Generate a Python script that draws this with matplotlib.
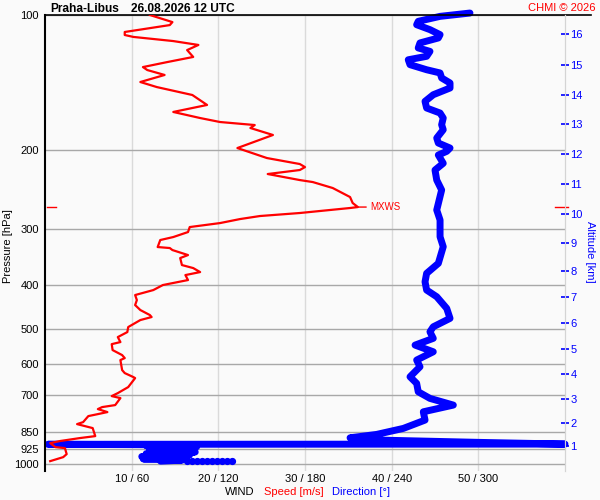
import matplotlib;matplotlib.use('Agg')
import numpy as np
import matplotlib.pyplot as plt
import matplotlib.transforms as mtransforms

plt.rcParams['font.family'] = ['Liberation Sans', 'DejaVu Sans']

STATION = 'Praha-Libus'
DATE_LABEL = '26.08.2026 12 UTC'
COPYRIGHT = 'CHMI © 2026'
PNG_FILENAME = 'out.png'

# wind speed profile: pressure [hPa] and speed [m/s]
speed_pres = [100.0, 103.7, 105.3, 109.1, 110.8, 111.9, 114.3, 116.6, 119.7, 124.0,
              127.3, 130.6, 132.6, 136.0, 141.0, 144.7, 150.7, 158.6, 164.4, 169.6,
              173.1, 175.8, 178.5, 185.0, 197.8, 208.2, 214.7, 218.1, 221.4, 226.0,
              233.1, 235.5, 242.8, 254.3, 262.2, 267.7, 269.0, 276.0, 280.3, 284.7,
              290.6, 296.6, 304.3, 312.2, 317.0, 328.6, 330.3, 333.7, 342.4, 347.7,
              360.4, 366.0, 373.6, 379.4, 389.2, 399.3, 409.7, 420.3, 431.3, 442.5,
              453.9, 465.7, 470.5, 477.8, 485.2, 495.3, 508.2, 521.4, 534.9, 540.6,
              557.3, 571.8, 580.7, 586.6, 617.5, 627.1, 640.1, 643.4, 673.8, 694.9,
              705.6, 712.9, 738.9, 746.5, 754.2, 765.9, 773.9, 781.8, 806.3, 814.6,
              831.4, 866.3, 875.2, 888.7, 898.0, 916.6, 921.3, 950.1, 964.9, 984.9]
speed_ms = [12.1, 14.7, 14.4, 9.2, 9.2, 10.2, 14.8, 17.7, 16.4, 17.1,
            14.1, 11.3, 11.8, 13.8, 11.0, 12.9, 17.0, 18.7, 14.8, 17.9,
            20.2, 24.2, 23.7, 26.3, 22.2, 25.6, 29.4, 30.0, 29.4, 25.7,
            29.4, 30.9, 33.2, 35.2, 35.5, 36.1, 35.2, 29.4, 24.8, 22.5,
            20.2, 16.7, 16.5, 14.8, 13.3, 13.0, 14.4, 14.7, 16.5, 15.6,
            15.8, 17.1, 17.9, 16.2, 16.5, 13.6, 12.5, 10.4, 10.6, 10.4,
            11.0, 12.1, 12.3, 11.0, 10.4, 9.6, 9.5, 8.4, 8.7, 7.7,
            7.8, 8.9, 9.2, 8.7, 8.9, 9.2, 10.2, 10.4, 9.6, 8.4,
            7.7, 8.7, 8.1, 6.6, 6.1, 7.2, 6.1, 5.0, 4.4, 3.7,
            5.5, 5.8, 4.0, 1.7, 0.6, 1.2, 2.3, 2.5, 2.1, 0.6]

# wind direction profile: pressure [hPa] and direction [deg]
dir_pres = [99.0, 100.7, 103.3, 105.1, 107.8, 110.6, 112.5, 115.4, 118.4, 120.5,
            123.6, 125.8, 129.0, 132.4, 134.6, 138.1, 141.7, 145.4, 150.5, 155.7,
            161.1, 165.3, 169.6, 175.5, 180.1, 187.9, 192.8, 197.8, 201.2, 205.0,
            213.9, 221.4, 233.1, 245.3, 271.8, 286.1, 311.7, 328.1, 357.3, 376.1,
            392.7, 409.7, 424.0, 450.0, 473.7, 494.6, 507.4, 524.8, 543.3, 562.2,
            586.6, 607.1, 639.1, 661.1, 690.2, 714.0, 738.9, 764.8, 798.0, 832.7,
            858.8, 873.9, 884.2, 894.7, 902.5, 903.5, 906.0, 910.0, 915.0, 920.0,
            925.0, 932.0, 940.0, 948.0, 956.0, 962.0, 968.0, 974.0, 980.0, 985.0]
dir_deg = [294.2, 273.5, 258.4, 257.3, 266.5, 273.5, 272.3, 259.6, 258.4, 266.5,
           264.2, 251.5, 252.7, 264.2, 273.5, 274.6, 280.4, 280.4, 268.8, 263.1,
           264.2, 273.5, 275.7, 274.6, 275.7, 271.2, 272.3, 280.4, 278.1, 272.3,
           275.7, 270.0, 271.2, 274.6, 271.2, 273.5, 273.5, 275.7, 272.3, 264.2,
           263.1, 264.2, 271.2, 278.1, 280.4, 268.8, 266.5, 268.8, 256.2, 268.8,
           257.3, 259.6, 252.7, 257.3, 258.4, 266.5, 282.7, 261.9, 263.1, 248.1,
           229.6, 211.2, 231.9, 301.2, 360.0, 2.0, 105.0, 70.0, 105.0, 72.0,
           103.0, 75.0, 104.0, 70.0, 100.0, 67.0, 97.0, 68.0, 95.0, 80.0]

# last readings near the ground
tail_pres = 985.0
tail_deg = [98.0, 101.5, 105.0, 108.5, 112.0, 115.5, 119.0, 122.5, 126.0, 129.5]

# altitude scale (right axis)
alt_km = list(range(1, 17))
alt_pres = [911.9, 809.1, 715.5, 631.3, 555.3, 486.0, 425.4, 371.1, 321.5, 277.9,
            238.3, 204.3, 175.2, 150.7, 129.2, 110.4]

p_ticks = [100, 200, 300, 400, 500, 600, 700, 850, 925, 1000]
speed_ticks = [10, 20, 30, 40, 50]

W, H = 600, 500
BG = '#fafafa'
RED = '#ff0000'
BLUE = '#0000ff'
P_BOTTOM, P_TOP = 1036, 100


def fx(px):
    return px / W


def fy(py):
    return 1 - py / H


def draw_plot():
    fig = plt.figure(figsize=(6, 5), dpi=100, facecolor=BG)
    ax = fig.add_axes([fx(45), fy(471), fx(520), 456 / H], facecolor=BG)
    ax.set_yscale('log')

    # speed on a twin sharing the pressure axis (0..60 m/s)
    ax_sp = ax.twiny()
    # altitude axis on the right, sharing the direction axis
    ax_alt = ax.twinx()

    # direction on the main axes (0..360)
    ax.set_xlim(0, 360)
    ax.set_ylim(P_BOTTOM, P_TOP)
    ax.set_yticks(p_ticks, [str(p) for p in p_ticks])
    ax.set_yticks([], minor=True)
    ax.set_xticks([s * 6 for s in speed_ticks],
                  ['%d / %d' % (s, s * 6) for s in speed_ticks])
    ax.grid(axis='x', color='#dadada', lw=1)
    ax.grid(axis='y', color='#a8a8a8', lw=1)
    ax.set_axisbelow(True)
    ax.tick_params(axis='both', length=0, labelsize=8, colors='black')
    ax.tick_params(axis='x', pad=2)
    ax.tick_params(axis='y', pad=4.5)
    ax.spines['left'].set_linewidth(1.5)
    ax.spines['left'].set_color('black')
    ax.spines['bottom'].set_visible(False)
    ax.spines['top'].set_visible(False)
    ax.spines['right'].set_color('#d4d4d4')

    ax.plot(dir_deg, dir_pres, color=BLUE, lw=5.0,
            solid_capstyle='round', solid_joinstyle='round', clip_on=False)
    ax.plot(tail_deg, [tail_pres] * len(tail_deg), ls='none', marker='o',
            ms=4.2, color=BLUE)

    ax_sp.set_xlim(0, 60)
    ax_sp.set_xticks([])
    for s in ax_sp.spines.values():
        s.set_visible(False)
    ax_sp.plot(speed_ms, speed_pres, color=RED, lw=1.6)

    # level of maximum wind
    i_max = int(np.argmax(speed_ms))
    p_max = speed_pres[i_max]
    ax_sp.annotate('MXWS', xy=(speed_ms[i_max], p_max), xytext=(9, 0),
                   textcoords='offset points', ha='left', va='center',
                   fontsize=7, color=RED,
                   arrowprops=dict(arrowstyle='-', color=RED, lw=1,
                                   shrinkA=1, shrinkB=0))
    trans = mtransforms.blended_transform_factory(ax_sp.transAxes, ax_sp.transData)
    ax_sp.plot([0.004, 0.021], [p_max, p_max], color=RED, lw=1, transform=trans,
               clip_on=False)
    ax_sp.plot([0.981, 1.006], [p_max, p_max], color=RED, lw=1, transform=trans,
               clip_on=False)

    ax_alt.set_yscale('log')
    ax_alt.set_ylim(P_BOTTOM, P_TOP)
    ax_alt.set_yticks(alt_pres, [str(a) for a in alt_km])
    ax_alt.set_yticks([], minor=True)
    for name in ['left', 'top', 'bottom']:
        ax_alt.spines[name].set_visible(False)
    ax_alt.spines['right'].set_color('#d4d4d4')
    ax_alt.tick_params(axis='y', direction='inout', length=6, width=1.2,
                       color=BLUE, labelcolor=BLUE, labelsize=8, pad=1)

    # top frame line running past the altitude axis
    ax.plot([0, 1.05], [1, 1], transform=ax.transAxes, color='black', lw=1.2,
            clip_on=False)

    fig.text(fx(50), fy(11.7), STATION, fontsize=8.6, fontweight='bold', va='baseline')
    fig.text(fx(131), fy(11.7), DATE_LABEL, fontsize=8.6, fontweight='bold', va='baseline')
    fig.text(fx(596), fy(10.7), COPYRIGHT, fontsize=8, color=RED, ha='right', va='baseline')

    fig.text(fx(225), fy(495), 'WIND', fontsize=8, va='baseline')
    fig.text(fx(264), fy(495), 'Speed [m/s]', fontsize=8, color=RED, va='baseline')
    fig.text(fx(332), fy(495), 'Direction [°]', fontsize=8, color=BLUE, va='baseline')
    fig.text(fx(8), fy(246), 'Pressure [hPa]', fontsize=8, rotation=90,
             ha='center', va='center')
    fig.text(fx(590), fy(252), 'Altitude [km]', fontsize=8, rotation=270,
             color=BLUE, ha='center', va='center')

    fig.savefig(PNG_FILENAME, dpi=100, facecolor=BG)


if __name__ == "__main__":
    draw_plot()
